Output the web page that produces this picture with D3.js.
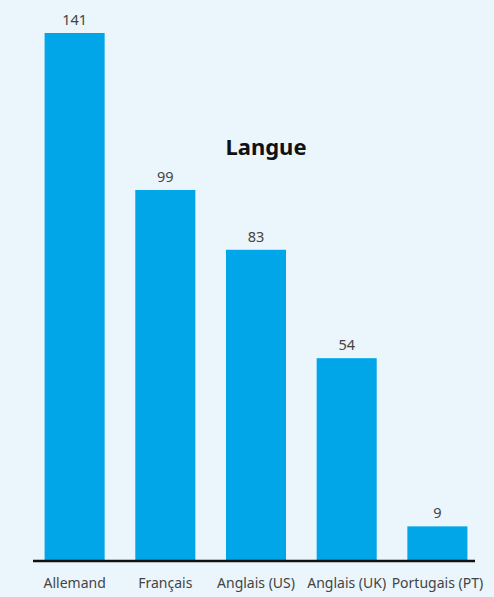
<!DOCTYPE html>
<html>
<head>
<meta charset="utf-8">
<script src="https://cdn.jsdelivr.net/npm/d3@7"></script>
<style>
  html, body { margin: 0; padding: 0; background: #ebf5fc; }
  svg { display: block; font-family: "Noto Sans", "Open Sans", sans-serif; }
</style>
</head>
<body>
<svg id="chart" width="494" height="597"></svg>
<script>
const languages = ["Allemand", "Français", "Anglais (US)", "Anglais (UK)", "Portugais (PT)"];
const counts = [141, 99, 83, 54, 9];
const title = "Langue";

const svg = d3.select("#chart");
const width = 494, height = 597;
const baseY = 560;

const x = d3.scaleBand()
  .domain(languages)
  .range([31, 481])
  .paddingInner(0.338)
  .paddingOuter(0.15);

const y = d3.scaleLinear()
  .domain([0, 141])
  .range([baseY, 33]);

svg.append("rect")
  .attr("width", width).attr("height", height)
  .attr("fill", "#ebf5fc");

// bars
svg.selectAll("rect.bar")
  .data(languages)
  .enter()
  .append("rect")
    .attr("class", "bar")
    .attr("x", d => x(d))
    .attr("y", (d, i) => y(counts[i]))
    .attr("width", x.bandwidth())
    .attr("height", (d, i) => baseY - y(counts[i]))
    .attr("fill", "#00a6e8");

// value labels
svg.selectAll("text.val")
  .data(languages)
  .enter()
  .append("text")
    .attr("class", "val")
    .attr("x", d => x(d) + x.bandwidth() / 2)
    .attr("y", (d, i) => y(counts[i]) - 8)
    .attr("text-anchor", "middle")
    .attr("font-size", 14.5)
    .attr("fill", "#444")
    .text((d, i) => counts[i]);

// x axis
const xAxis = d3.axisBottom(x).tickSize(0).tickPadding(18);
const gx = svg.append("g")
  .attr("transform", `translate(0,${baseY})`)
  .call(xAxis);
gx.select(".domain").remove();
gx.selectAll("text")
  .attr("font-size", 14)
  .attr("font-family", "\"Noto Sans\", sans-serif")
  .attr("fill", "#444");

svg.append("line")
  .attr("x1", 33).attr("x2", 475)
  .attr("y1", baseY + 1).attr("y2", baseY + 1)
  .attr("stroke", "#111")
  .attr("stroke-width", 2.5);

// title
svg.append("text")
  .attr("x", 266)
  .attr("y", 155)
  .attr("text-anchor", "middle")
  .attr("font-size", 22)
  .attr("font-weight", "bold")
  .attr("fill", "#111")
  .text(title);
</script>
</body>
</html>
